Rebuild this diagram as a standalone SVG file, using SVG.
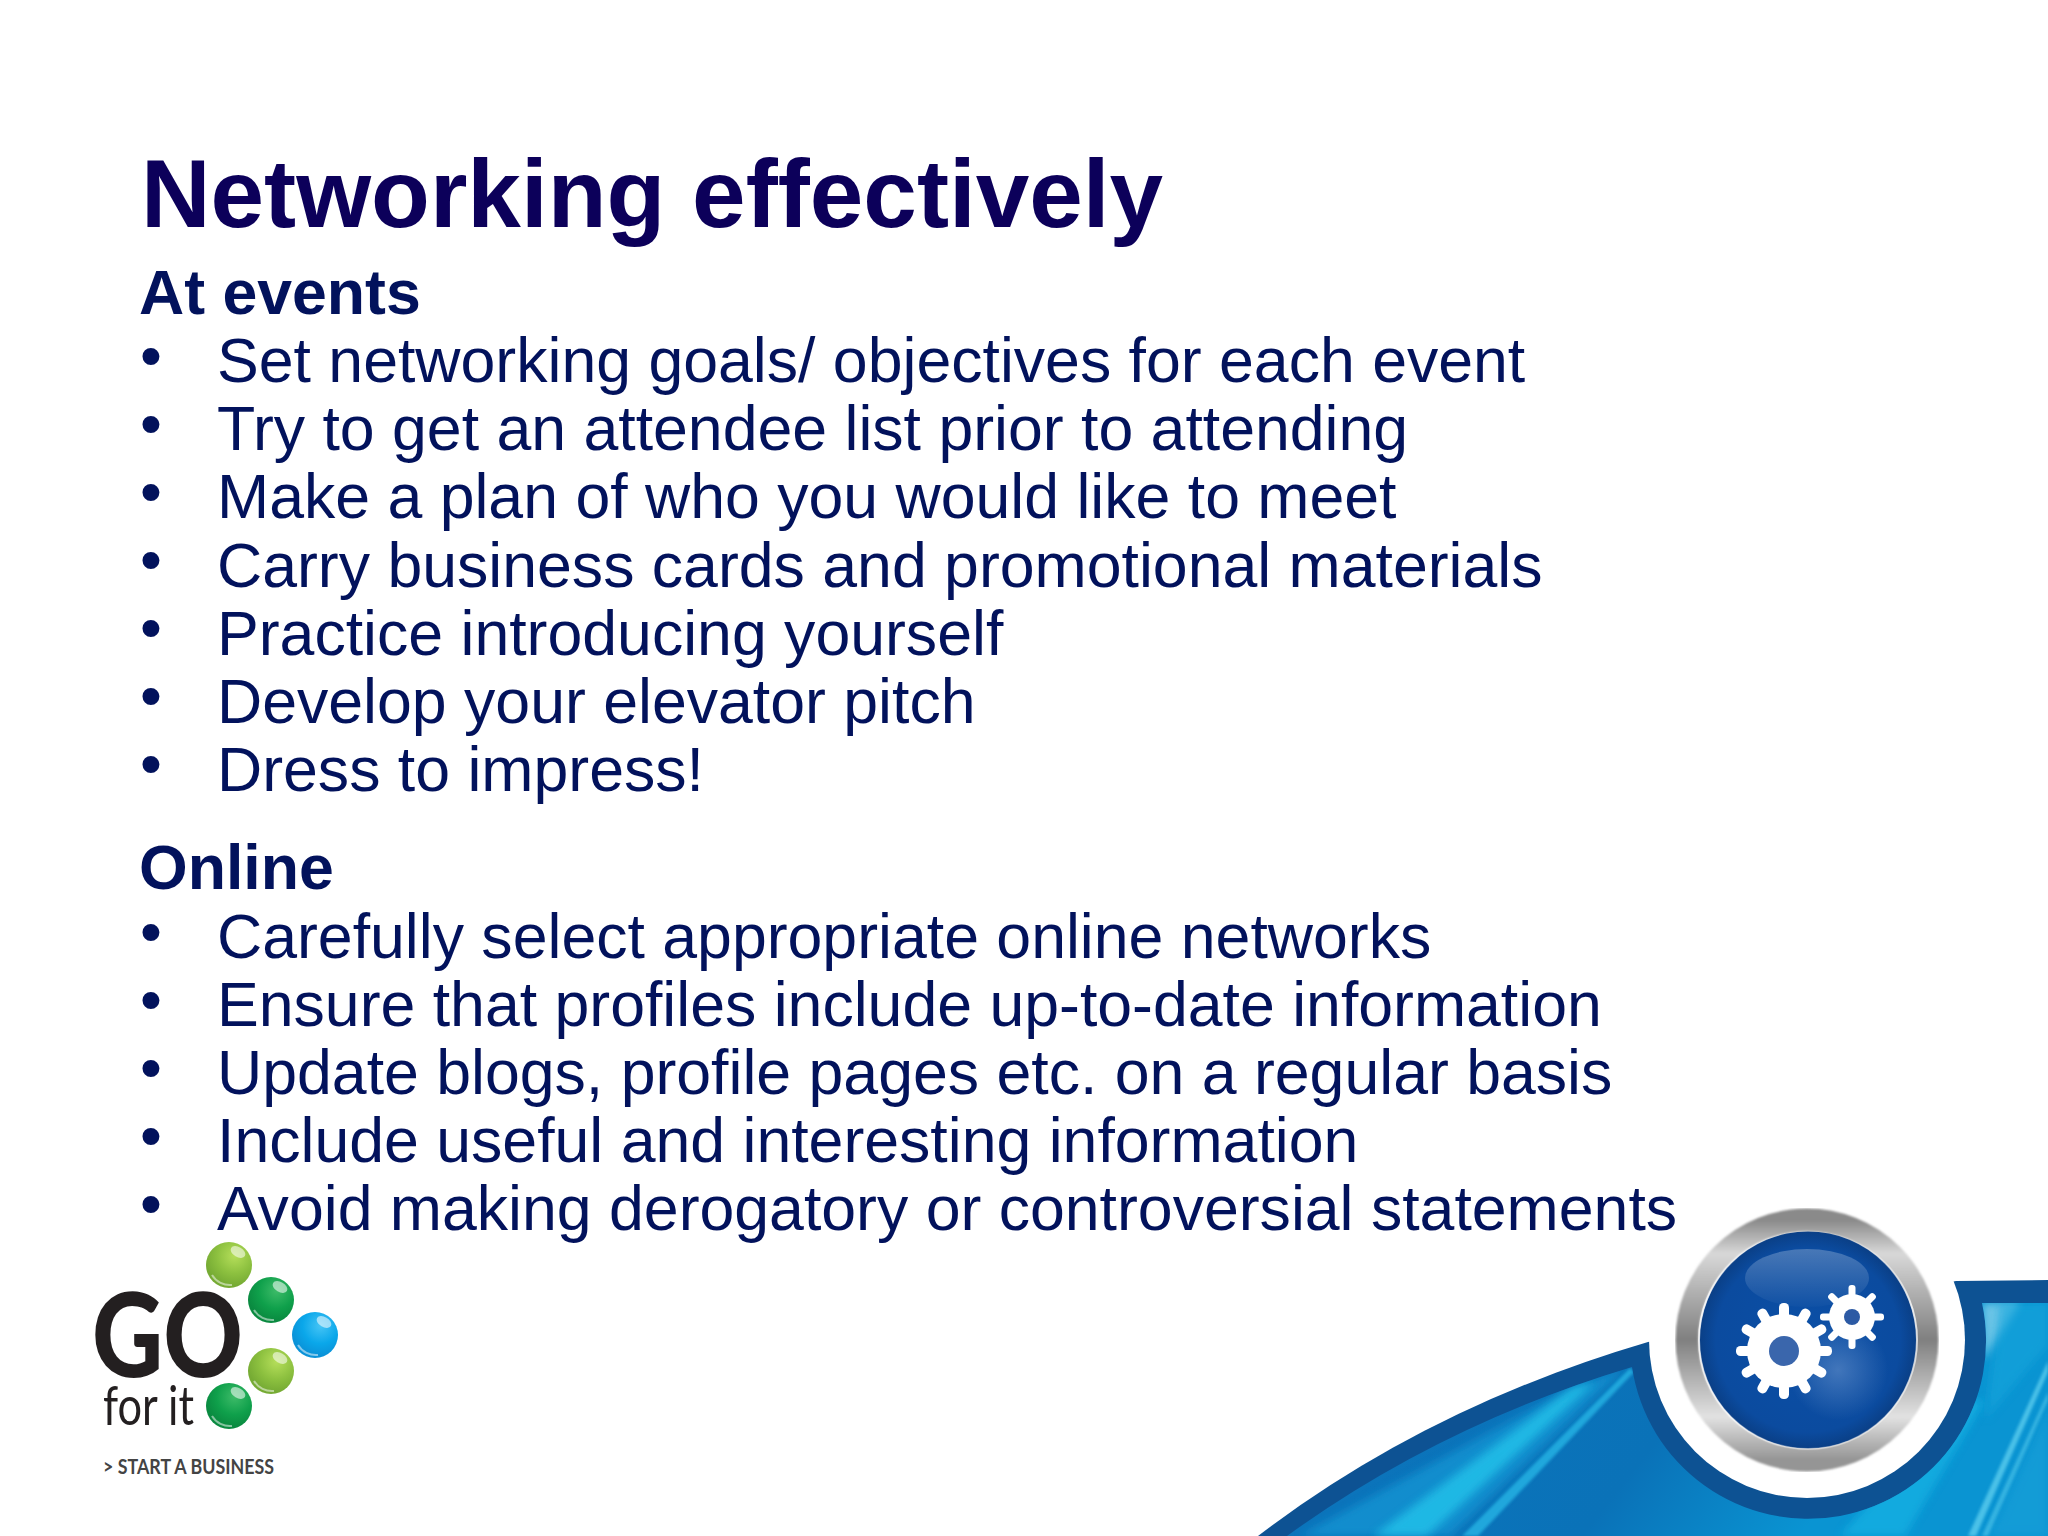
<svg xmlns="http://www.w3.org/2000/svg" xmlns:xlink="http://www.w3.org/1999/xlink" width="2048" height="1536" viewBox="0 0 2048 1536">
<style>
text{font-family:"Liberation Sans",Arial,sans-serif;fill:#02125c}
.t{font-size:96.3px;font-weight:700;fill:#0c005a}
.h{font-size:62.6px;font-weight:700}
.b{font-size:62.6px}
.g{font-family:Lato,"Liberation Sans",sans-serif;fill:#231f20}
</style>
<defs>
<linearGradient id="sky" gradientUnits="userSpaceOnUse" x1="1500" y1="1300" x2="1800" y2="1536"><stop offset="0" stop-color="#0b74bb"/><stop offset=".55" stop-color="#0a72b8"/><stop offset="1" stop-color="#0a94d2"/></linearGradient>
<linearGradient id="ring" x1="0" y1="0" x2="0" y2="1"><stop offset="0" stop-color="#8a8a8a"/><stop offset=".14" stop-color="#d8d8d8"/><stop offset=".5" stop-color="#808080"/><stop offset=".82" stop-color="#e2e2e2"/><stop offset="1" stop-color="#959595"/></linearGradient>
<linearGradient id="edge" x1="0" y1="0" x2="0" y2="1"><stop offset="0" stop-color="#fff" stop-opacity="0"/><stop offset=".35" stop-color="#fff" stop-opacity=".8"/><stop offset="1" stop-color="#fff" stop-opacity=".3"/></linearGradient>
<linearGradient id="hi" x1="0" y1="0" x2="0" y2="1"><stop offset="0" stop-color="#fff" stop-opacity=".25"/><stop offset="1" stop-color="#fff" stop-opacity=".02"/></linearGradient>
<radialGradient id="disc"><stop offset="0" stop-color="#0b4fa6"/><stop offset=".85" stop-color="#0b4b9f"/><stop offset="1" stop-color="#0a3f86"/></radialGradient>
<radialGradient id="glow"><stop offset="0" stop-color="#5f8cc8" stop-opacity=".65"/><stop offset="1" stop-color="#5f8cc8" stop-opacity="0"/></radialGradient>
<clipPath id="c1"><path d="M1287,1536Q1440,1425 1632,1367A178,178 0 1 0 1982,1303H2048V1536Z"/></clipPath>
<filter id="bl" x="-20%" y="-20%" width="140%" height="140%"><feGaussianBlur stdDeviation="4"/></filter>
<filter id="bs" x="-20%" y="-20%" width="140%" height="140%"><feGaussianBlur stdDeviation="1.500"/></filter>
<filter id="soft" x="-5%" y="-5%" width="110%" height="110%"><feGaussianBlur stdDeviation="1"/></filter>
<radialGradient id="gr" cx=".62" cy=".3" r=".65"><stop offset="0" stop-color="#b5de5a"/><stop offset=".6" stop-color="#8cc03f"/><stop offset="1" stop-color="#76ab34"/></radialGradient>
<radialGradient id="dg" cx=".62" cy=".3" r=".65"><stop offset="0" stop-color="#3dbb68"/><stop offset=".6" stop-color="#0fa04b"/><stop offset="1" stop-color="#0a8a40"/></radialGradient>
<radialGradient id="bu" cx=".62" cy=".3" r=".65"><stop offset="0" stop-color="#45c4f5"/><stop offset=".6" stop-color="#0aa7ea"/><stop offset="1" stop-color="#0a92d8"/></radialGradient>
<g id="shine"><ellipse cx="9" cy="-13" rx="8" ry="5" fill="#fff" opacity=".55" transform="rotate(30 9 -13)"/><path d="M-17,10A21,21 0 0 0 3,20" fill="none" stroke="#fff" stroke-width="2" opacity=".5"/></g>
<rect id="tb" x="-5" y="-48" width="10" height="16" rx="4.5" fill="#fff"/>
<rect id="ts" x="-3.500" y="-32" width="7" height="12" rx="3" fill="#fff"/>
</defs>
<rect width="2048" height="1536" fill="#fff"/>
<g id="banner">
<path d="M1258,1536Q1427,1407 1648,1342L1956,1281L2048,1280V1536Z" fill="#0d5293"/>
<path d="M1287,1536Q1440,1425 1632,1367A178,178 0 1 0 1982,1303H2048V1536Z" fill="url(#sky)"/>
<g clip-path="url(#c1)">
<path d="M1300,1536L1573,1387L1625,1368L1450,1536Z" fill="#1499d6" opacity=".7" filter="url(#bl)"/>
<path d="M1373,1536L1573,1387L1595,1382L1427,1536Z" fill="#22c0e8" opacity=".85" filter="url(#bl)"/>
<path d="M1462,1536L1630,1368L1634,1372L1478,1536Z" fill="#25b5e5" opacity=".8" filter="url(#bs)"/>
<path d="M1840,1536L1960,1400L1985,1400L1905,1536Z" fill="#12b4e4" opacity=".7" filter="url(#bl)"/>
<path d="M1982,1303L2020,1303L1984,1360Z" fill="#8fd6ee" opacity=".75" filter="url(#bl)"/>
<path d="M2000,1303H2048V1345L1985,1420Z" fill="#17a6dc" opacity=".6" filter="url(#bl)"/>
<path d="M1968,1536L2048,1361V1372L1976,1536Z" fill="#5ccdee" opacity=".8" filter="url(#bs)"/>
<path d="M1982,1536L2048,1392V1400L1988,1536Z" fill="#5ccdee" opacity=".6" filter="url(#bs)"/>
<path d="M1990,1536L2048,1410V1536Z" fill="#1ba3da" opacity=".5" filter="url(#bl)"/>
</g>
</g>
<g id="badge">
<circle cx="1807" cy="1340" r="158" fill="#fff"/>
<circle cx="1807" cy="1340" r="120" fill="none" stroke="url(#ring)" stroke-width="23" filter="url(#soft)"/>
<circle cx="1808" cy="1340" r="108.500" fill="url(#disc)"/>
<circle cx="1808" cy="1340" r="109" fill="none" stroke="url(#edge)" stroke-width="2"/>
<circle cx="1838" cy="1370" r="50" fill="url(#glow)"/>
<ellipse cx="1807" cy="1278" rx="62" ry="29" fill="url(#hi)"/>
<g id="gear-large" transform="translate(1784 1351)">
<circle r="37" fill="#fff"/>
<use xlink:href="#tb"/><use xlink:href="#tb" transform="rotate(30)"/><use xlink:href="#tb" transform="rotate(60)"/><use xlink:href="#tb" transform="rotate(90)"/><use xlink:href="#tb" transform="rotate(120)"/><use xlink:href="#tb" transform="rotate(150)"/><use xlink:href="#tb" transform="rotate(180)"/><use xlink:href="#tb" transform="rotate(210)"/><use xlink:href="#tb" transform="rotate(240)"/><use xlink:href="#tb" transform="rotate(270)"/><use xlink:href="#tb" transform="rotate(300)"/><use xlink:href="#tb" transform="rotate(330)"/>
<circle r="15" fill="#3a66ac"/>
</g>
<g id="gear-small" transform="translate(1852 1317)">
<circle r="23" fill="#fff"/>
<use xlink:href="#ts"/><use xlink:href="#ts" transform="rotate(45)"/><use xlink:href="#ts" transform="rotate(90)"/><use xlink:href="#ts" transform="rotate(135)"/><use xlink:href="#ts" transform="rotate(180)"/><use xlink:href="#ts" transform="rotate(225)"/><use xlink:href="#ts" transform="rotate(270)"/><use xlink:href="#ts" transform="rotate(315)"/>
<circle r="8" fill="#2c5aa4"/>
</g>
</g>
<g id="logo">
<g transform="translate(229 1265)"><circle r="23" fill="url(#gr)"/><use xlink:href="#shine"/></g>
<g transform="translate(271 1300)"><circle r="23" fill="url(#dg)"/><use xlink:href="#shine"/></g>
<g transform="translate(315 1335)"><circle r="23" fill="url(#bu)"/><use xlink:href="#shine"/></g>
<g transform="translate(271 1371)"><circle r="23" fill="url(#gr)"/><use xlink:href="#shine"/></g>
<g transform="translate(229 1406)"><circle r="23" fill="url(#dg)"/><use xlink:href="#shine"/></g>
<text class="g" x="92" y="1377" font-size="116" font-weight="900" textLength="151" lengthAdjust="spacingAndGlyphs">GO</text>
<text class="g" x="103" y="1425" font-size="55" textLength="91" lengthAdjust="spacingAndGlyphs">for it</text>
<text class="g" x="103" y="1474" font-size="20" font-weight="700" textLength="171" lengthAdjust="spacingAndGlyphs" style="fill:#444">&gt; START A BUSINESS</text>
</g>
<g id="content">
<text class="t" x="141" y="227">Networking effectively</text>
<text class="h" x="139" y="314">At events</text>
<text class="b" x="140" y="377">•</text><text class="b" x="217" y="382">Set networking goals/ objectives for each event</text>
<text class="b" x="140" y="445">•</text><text class="b" x="217" y="450">Try to get an attendee list prior to attending</text>
<text class="b" x="140" y="513">•</text><text class="b" x="217" y="518">Make a plan of who you would like to meet</text>
<text class="b" x="140" y="581">•</text><text class="b" x="217" y="587">Carry business cards and promotional materials</text>
<text class="b" x="140" y="649">•</text><text class="b" x="217" y="655">Practice introducing yourself</text>
<text class="b" x="140" y="717">•</text><text class="b" x="217" y="723">Develop your elevator pitch</text>
<text class="b" x="140" y="785">•</text><text class="b" x="217" y="791">Dress to impress!</text>
<text class="h" x="139" y="889">Online</text>
<text class="b" x="140" y="953">•</text><text class="b" x="217" y="958">Carefully select appropriate online networks</text>
<text class="b" x="140" y="1021">•</text><text class="b" x="217" y="1026">Ensure that profiles include up-to-date information</text>
<text class="b" x="140" y="1089">•</text><text class="b" x="217" y="1094">Update blogs, profile pages etc. on a regular basis</text>
<text class="b" x="140" y="1157">•</text><text class="b" x="217" y="1162">Include useful and interesting information</text>
<text class="b" x="140" y="1225">•</text><text class="b" x="217" y="1230">Avoid making derogatory or controversial statements</text>
</g>
</svg>
